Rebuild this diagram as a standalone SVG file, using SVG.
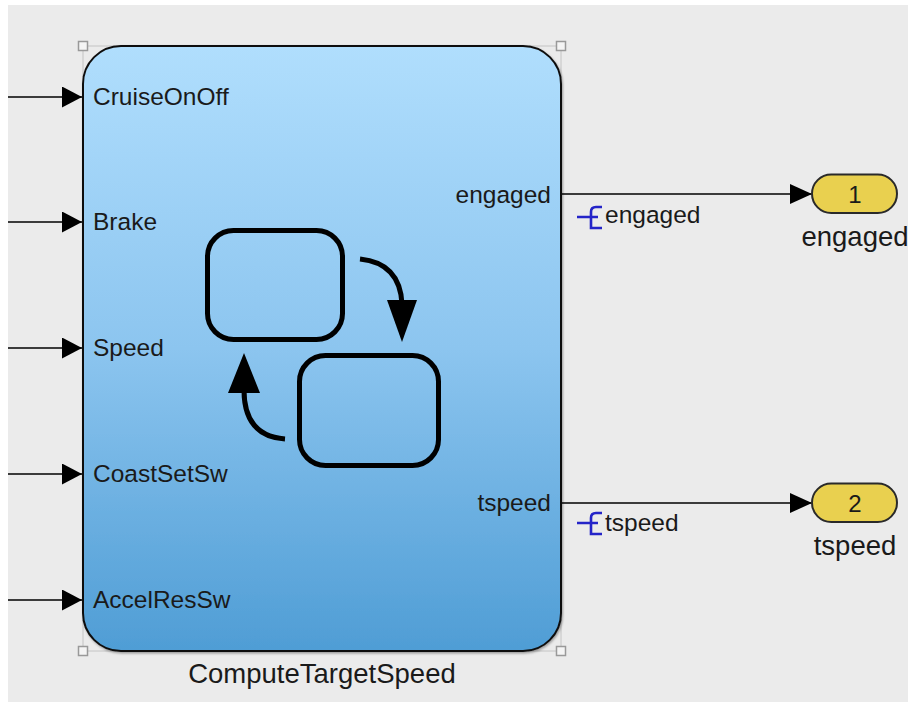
<svg xmlns="http://www.w3.org/2000/svg" width="908" height="703" viewBox="0 0 908 703">
  <defs>
    <linearGradient id="blockGrad" x1="0" y1="0" x2="0" y2="1">
      <stop offset="0" stop-color="#b0defd"/>
      <stop offset="0.5" stop-color="#8cc5ef"/>
      <stop offset="1" stop-color="#4f9dd5"/>
    </linearGradient>
    <filter id="shadow" x="-5%" y="-5%" width="110%" height="110%">
      <feDropShadow dx="1" dy="1.5" stdDeviation="1.2" flood-color="#000" flood-opacity="0.35"/>
    </filter>
    <marker id="arrowIn" markerWidth="20" markerHeight="21" refX="20" refY="10.5" orient="auto" markerUnits="userSpaceOnUse">
      <polygon points="0,0 20,10.5 0,21" fill="#000"/>
    </marker>
    <marker id="arrowOut" markerWidth="22" markerHeight="20" refX="22" refY="10" orient="auto" markerUnits="userSpaceOnUse">
      <polygon points="0,0 22,10 0,20" fill="#000"/>
    </marker>
  </defs>
  <style>
    .lbl { font-family: "Liberation Sans", Arial, sans-serif; fill: #1a1a1a; }
    .port { font-size: 24.5px; }
    .name { font-size: 27.5px; }
    .num { font-size: 24px; }
    .wire { stroke: #000; stroke-width: 1.5; fill: none; }
    .handle { fill: #f4f4f4; stroke: #999; stroke-width: 1.5; }
    .state { fill: none; stroke: #000; stroke-width: 5; }
    .trans { fill: none; stroke: #000; stroke-width: 5; }
    .sig { stroke: #2424c8; stroke-width: 2.6; fill: none; }
    .pill { fill: #e9d04f; stroke: #2a2a2a; stroke-width: 2; }
  </style>

  <rect x="0" y="0" width="908" height="703" fill="#ffffff"/>
  <rect x="8" y="5" width="900" height="697" fill="#ebebeb"/>

  <g id="connectors">
    <line class="wire" x1="8" y1="97" x2="82" y2="97" marker-end="url(#arrowIn)"/>
    <line class="wire" x1="8" y1="222" x2="82" y2="222" marker-end="url(#arrowIn)"/>
    <line class="wire" x1="8" y1="348" x2="82" y2="348" marker-end="url(#arrowIn)"/>
    <line class="wire" x1="8" y1="474" x2="82" y2="474" marker-end="url(#arrowIn)"/>
    <line class="wire" x1="8" y1="600" x2="82" y2="600" marker-end="url(#arrowIn)"/>
    <line class="wire" x1="561" y1="194" x2="812" y2="194" marker-end="url(#arrowOut)"/>
    <line class="wire" x1="561" y1="503" x2="812" y2="503" marker-end="url(#arrowOut)"/>
    <g id="sig-engaged">
      <path class="sig" d="M577,217 H598 M602,207 H596 Q591,207 591,212 V228 H602"/>
      <text class="lbl port" x="605" y="223">engaged</text>
    </g>
    <g id="sig-tspeed">
      <path class="sig" d="M577,523 H598 M602,513 H596 Q591,513 591,518 V534 H602"/>
      <text class="lbl port" x="605" y="531">tspeed</text>
    </g>
  </g>

  <g id="ComputeTargetSpeed">
    <rect x="83" y="46" width="478" height="605" fill="none" stroke="#c4c4c4" stroke-width="1"/>
    <rect x="83" y="46" width="478" height="605" rx="38" ry="38" fill="url(#blockGrad)" stroke="#111" stroke-width="2" filter="url(#shadow)"/>
    <rect class="handle" x="78.5" y="41.5" width="9" height="9"/>
    <rect class="handle" x="556.5" y="41.5" width="9" height="9"/>
    <rect class="handle" x="78.5" y="646.5" width="9" height="9"/>
    <rect class="handle" x="556.5" y="646.5" width="9" height="9"/>
    <text class="lbl port" x="93" y="105">CruiseOnOff</text>
    <text class="lbl port" x="93" y="230">Brake</text>
    <text class="lbl port" x="93" y="356">Speed</text>
    <text class="lbl port" x="93" y="482">CoastSetSw</text>
    <text class="lbl port" x="93" y="608">AccelResSw</text>
    <text class="lbl port" x="551" y="203" text-anchor="end">engaged</text>
    <text class="lbl port" x="551" y="511" text-anchor="end">tspeed</text>
    <g id="chart-icon">
      <rect class="state" x="207.5" y="230.5" width="135" height="109" rx="26"/>
      <rect class="state" x="299.5" y="355.5" width="139" height="110" rx="26"/>
      <path class="trans" d="M360,259 Q400,263 402,304"/>
      <polygon points="387,300 417,300 402,342" fill="#000"/>
      <path class="trans" d="M285,439 Q244,436 244,390"/>
      <polygon points="228,393 260,393 244,353" fill="#000"/>
    </g>
    <text class="lbl name" x="322" y="683" text-anchor="middle">ComputeTargetSpeed</text>
  </g>

  <g id="Outport1">
    <rect class="pill" x="812" y="174.5" width="85" height="38.5" rx="19.25"/>
    <text class="lbl num" x="855" y="203" text-anchor="middle">1</text>
    <text class="lbl name" x="855" y="246" text-anchor="middle">engaged</text>
  </g>

  <g id="Outport2">
    <rect class="pill" x="812" y="483.5" width="85" height="38.5" rx="19.25"/>
    <text class="lbl num" x="855" y="512" text-anchor="middle">2</text>
    <text class="lbl name" x="855" y="555" text-anchor="middle">tspeed</text>
  </g>
</svg>
